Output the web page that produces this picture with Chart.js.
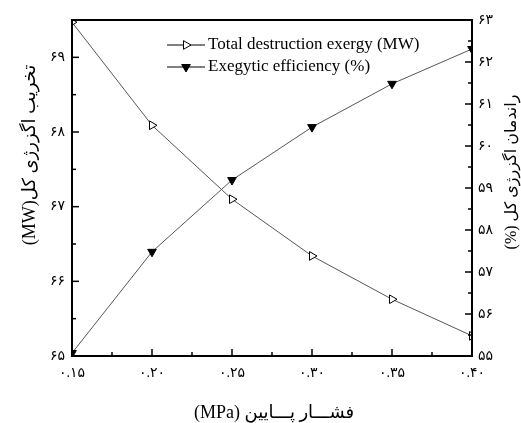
<!DOCTYPE html>
<html>
<head>
<meta charset="utf-8">
<script src="https://cdn.jsdelivr.net/npm/chart.js@4"></script>
<style>
  html, body { margin: 0; padding: 0; background: #fff; }
</style>
</head>
<body>
<canvas id="exergyChart" width="521" height="423"></canvas>
<script>
// ===================
// data
// ===================
const pressure = [0.15, 0.20, 0.25, 0.30, 0.35, 0.40];
const destructionExergy = [69.47, 68.09, 67.10, 66.34, 65.76, 65.27];
const exergyEfficiency = [55.07, 57.48, 59.19, 60.45, 61.48, 62.31];
const seriesNames = ["Total destruction exergy (MW)", "Exegytic efficiency (%)"];
const xTitle = "(MPa) فشـــار پـــایین";
const leftTitle = "(MW)تخریب اگزرژی کل";
const rightTitle = "(%) راندمان اگزرژی کل";

const serif = "'Liberation Serif', 'DejaVu Sans', serif";
const faDigits = "۰۱۲۳۴۵۶۷۸۹";
function fa(s) {
  return String(s).replace(/\d/g, (d) => faDigits[d]);
}

const lineColor = "#555";

// inward ticks, box, titles and legend
const decorations = {
  id: "decorations",
  afterDatasetsDraw(chart) {
    const ctx = chart.ctx;
    const a = chart.chartArea;
    ctx.save();
    ctx.strokeStyle = "#000";
    ctx.lineWidth = 1.5;

    const drawTicks = (scale, step, dir) => {
      scale.ticks.forEach((t) => {
        [t.value, t.value + step / 2].forEach((v, i) => {
          if (v > scale.max + 1e-9) return;
          const len = i === 0 ? 7 : 4;
          const p = scale.getPixelForValue(v);
          ctx.beginPath();
          if (dir === "up") {
            ctx.moveTo(p, a.bottom);
            ctx.lineTo(p, a.bottom - len);
          } else if (dir === "right") {
            ctx.moveTo(a.left, p);
            ctx.lineTo(a.left + len, p);
          } else {
            ctx.moveTo(a.right, p);
            ctx.lineTo(a.right - len, p);
          }
          ctx.stroke();
        });
      });
    };
    drawTicks(chart.scales.x, 0.05, "up");
    drawTicks(chart.scales.y, 1, "right");
    drawTicks(chart.scales.y1, 1, "left");

    ctx.lineWidth = 2;
    ctx.strokeRect(a.left, a.top, a.right - a.left, a.bottom - a.top);

    // axis titles
    ctx.fillStyle = "#000";
    ctx.textAlign = "center";
    ctx.textBaseline = "middle";
    ctx.font = "18px " + serif;
    ctx.fillText(xTitle, 274, 413);

    ctx.save();
    ctx.translate(30, 155);
    ctx.rotate(-Math.PI / 2);
    ctx.fillText(leftTitle, 0, 0);
    ctx.restore();

    ctx.font = "16px " + serif;
    ctx.save();
    ctx.translate(512, 172);
    ctx.rotate(-Math.PI / 2);
    ctx.fillText(rightTitle, 0, 0);
    ctx.restore();

    // legend
    const rows = [45, 67];
    chart.data.datasets.forEach((ds, i) => {
      const y = rows[i];
      ctx.strokeStyle = "#000";
      ctx.lineWidth = 1;
      ctx.beginPath();
      ctx.moveTo(167, y);
      ctx.lineTo(205, y);
      ctx.stroke();
      ctx.fillStyle = ds.pointBackgroundColor;
      ctx.strokeStyle = "#000";
      Chart.helpers.drawPoint(ctx, {
        pointStyle: "triangle",
        rotation: ds.pointRotation,
        radius: ds.pointRadius,
        borderWidth: 1,
      }, 186, y);
      ctx.fillStyle = "#000";
      ctx.font = "17px " + serif;
      ctx.textAlign = "left";
      ctx.fillText(seriesNames[i], 208, y);
    });
    ctx.restore();
  },
};

const exergyChart = new Chart(document.getElementById("exergyChart"), {
  type: "line",
  data: {
    datasets: [
      {
        label: seriesNames[0],
        data: pressure.map((p, i) => ({ x: p, y: destructionExergy[i] })),
        yAxisID: "y",
        borderColor: lineColor,
        borderWidth: 1,
        pointStyle: "triangle",
        pointRotation: 90,
        pointRadius: 5,
        pointBorderWidth: 1,
        pointBorderColor: "#000",
        pointBackgroundColor: "#fff",
        fill: false,
      },
      {
        label: seriesNames[1],
        data: pressure.map((p, i) => ({ x: p, y: exergyEfficiency[i] })),
        yAxisID: "y1",
        borderColor: lineColor,
        borderWidth: 1,
        pointStyle: "triangle",
        pointRotation: 180,
        pointRadius: 5,
        pointBorderWidth: 1,
        pointBorderColor: "#000",
        pointBackgroundColor: "#000",
        fill: false,
      },
    ],
  },
  options: {
    responsive: false,
    animation: false,
    layout: { padding: { left: 50, right: 27, top: 20, bottom: 43 } },
    plugins: { legend: { display: false }, tooltip: { enabled: false } },
    scales: {
      x: {
        type: "linear",
        min: 0.15,
        max: 0.4,
        grid: { display: false, drawTicks: false },
        border: { display: false },
        ticks: {
          stepSize: 0.05,
          padding: 9,
          color: "#000",
          font: { size: 14, family: serif },
          maxRotation: 0,
          callback: (v) => fa(v.toFixed(2)),
        },
        afterFit: (s) => { s.height = 24; },
      },
      y: {
        position: "left",
        min: 65,
        max: 69.5,
        grid: { display: false, drawTicks: false },
        border: { display: false },
        ticks: {
          stepSize: 1,
          padding: 7,
          color: "#000",
          font: { size: 14, family: serif },
          callback: (v) => fa(v),
        },
        afterBuildTicks: (s) => {
          s.ticks = s.ticks.filter((t) => Number.isInteger(Math.round(t.value * 1e6) / 1e6));
        },
        afterFit: (s) => { s.width = 22; },
      },
      y1: {
        position: "right",
        min: 55,
        max: 63,
        grid: { display: false, drawTicks: false },
        border: { display: false },
        ticks: {
          stepSize: 1,
          padding: 6,
          color: "#000",
          font: { size: 14, family: serif },
          callback: (v) => fa(v),
        },
        afterFit: (s) => { s.width = 22; },
      },
    },
  },
  plugins: [decorations],
});
</script>
</body>
</html>
